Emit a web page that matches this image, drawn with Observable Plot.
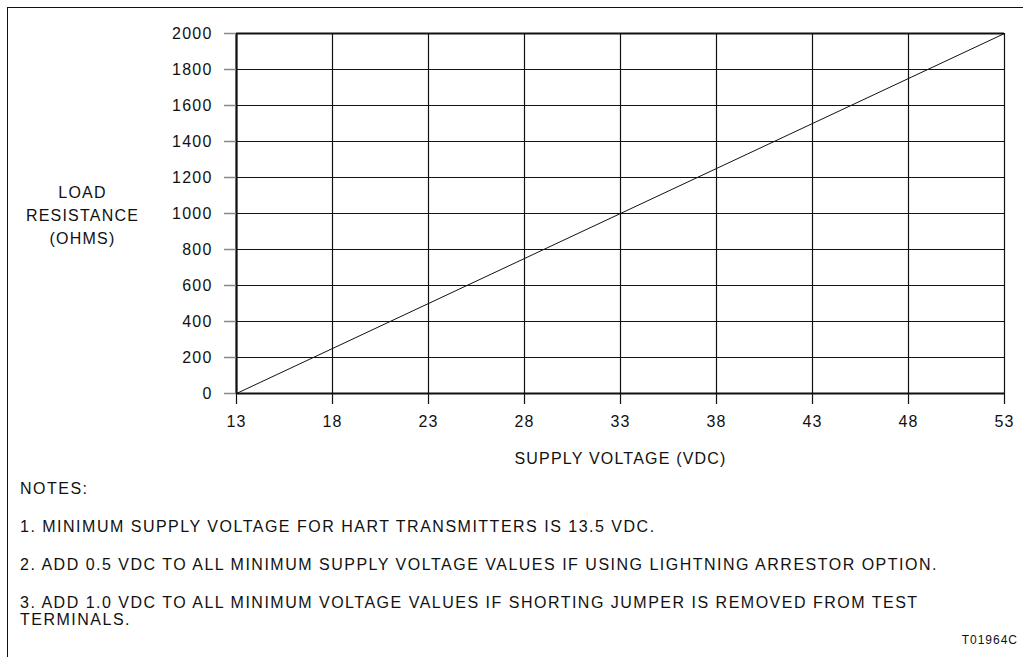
<!DOCTYPE html>
<html>
<head>
<meta charset="utf-8">
<script src="https://cdn.jsdelivr.net/npm/d3@7"></script>
<script src="https://cdn.jsdelivr.net/npm/@observablehq/plot@0.6"></script>
<style>
  html, body { margin: 0; padding: 0; background: #fff; }
  #wrap { position: relative; width: 1023px; height: 657px; overflow: hidden; font-family: "Liberation Sans", Arial, sans-serif; color: #111; }
  #frameTop { position: absolute; left: 8px; top: 7px; width: 1015px; height: 0; border-top: 1.5px solid #111; }
  #frameLeft { position: absolute; left: 7px; top: 7px; width: 0; height: 650px; border-left: 1.5px solid #111; }
  #chart { position: absolute; left: 0; top: 0; }
  .note { position: absolute; left: 20px; font-size: 16px; letter-spacing: 1.5px; white-space: nowrap; line-height: 17px; }
  #code { position: absolute; right: 5px; top: 633px; font-size: 12px; letter-spacing: 1px; }
</style>
</head>
<body>
<div id="wrap">
  <div id="chart"></div>
  <div id="frameTop"></div>
  <div id="frameLeft"></div>
  <div class="note" style="top:480px">NOTES:</div>
  <div class="note" style="top:518px">1. MINIMUM SUPPLY VOLTAGE FOR HART TRANSMITTERS IS 13.5 VDC.</div>
  <div class="note" style="top:556px">2. ADD 0.5 VDC TO ALL MINIMUM SUPPLY VOLTAGE VALUES IF USING LIGHTNING ARRESTOR OPTION.</div>
  <div class="note" style="top:594px">3. ADD 1.0 VDC TO ALL MINIMUM VOLTAGE VALUES IF SHORTING JUMPER IS REMOVED FROM TEST<br>TERMINALS.</div>
  <div id="code">T01964C</div>
</div>
<script>
// Data
const supplyVoltage = [13, 53];
const loadResistance = [0, 2000];
const xTicks = [13, 18, 23, 28, 33, 38, 43, 48, 53];
const yTicks = [0, 200, 400, 600, 800, 1000, 1200, 1400, 1600, 1800, 2000];
const xLabel = "SUPPLY VOLTAGE (VDC)";
const yLabel = "LOAD\nRESISTANCE\n(OHMS)";

const lineData = supplyVoltage.map((v, i) => ({v, r: loadResistance[i]}));

const chart = Plot.plot({
  width: 1023,
  height: 480,
  marginLeft: 236,
  marginRight: 19,
  marginTop: 33,
  marginBottom: 87,
  style: {fontFamily: '"Liberation Sans", Arial, sans-serif', fontSize: "16px", letterSpacing: "1.2px", color: "#111", background: "transparent", overflow: "visible"},
  x: {domain: [13, 53], ticks: xTicks, label: null},
  y: {domain: [0, 2000], ticks: yTicks, label: null},
  marks: [
    Plot.ruleX(xTicks, {stroke: "#111", strokeWidth: 1.2}),
    Plot.ruleY(yTicks, {stroke: "#111", strokeWidth: 1}),
    Plot.ruleX([13], {stroke: "#111", strokeWidth: 2.2}),
    Plot.ruleY([0, 2000], {stroke: "#111", strokeWidth: 2.2}),
    Plot.axisY({ticks: yTicks, tickSize: 12, tickPadding: 12, stroke: "#888", strokeWidth: 1.5, fill: "#111", tickFormat: d => String(d), fontSize: 16}),
    Plot.axisX({ticks: xTicks, tickSize: 11, tickPadding: 11, stroke: "#111", strokeWidth: 1.2, fill: "#111", tickFormat: d => String(d), fontSize: 16}),
    Plot.line(lineData, {x: "v", y: "r", stroke: "#111", strokeWidth: 1}),
    Plot.text([xLabel], {frameAnchor: "bottom", dy: 70, fill: "#111", fontSize: 16}),
    Plot.text([yLabel], {frameAnchor: "left", dx: -154, dy: 0, textAnchor: "middle", lineHeight: 1.45, fill: "#111", fontSize: 16})
  ]
});
document.getElementById("chart").appendChild(chart);
</script>
</body>
</html>
